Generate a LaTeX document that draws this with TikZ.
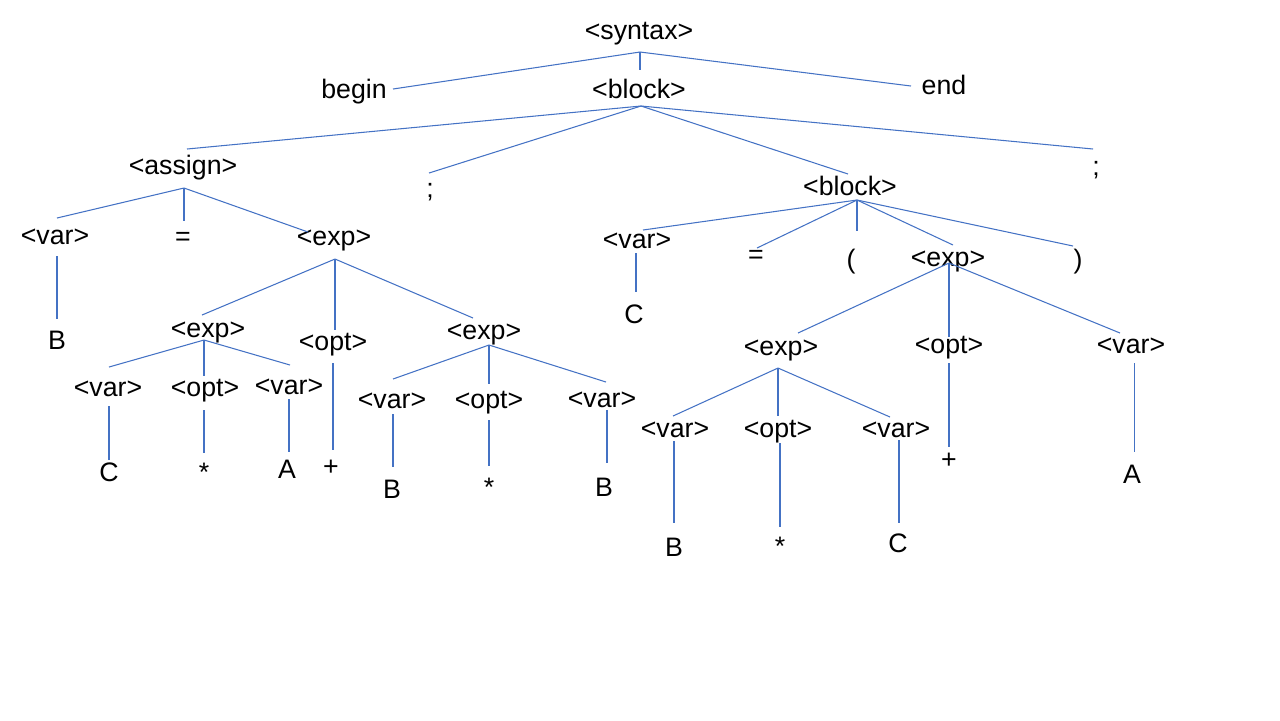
\documentclass[tikz,border=0pt]{standalone}
\usepackage{fontspec}
\setmainfont{Liberation Sans}
\usetikzlibrary{calc}

\definecolor{edgeblue}{RGB}{68,114,196}

\tikzset{
	tok/.style={inner sep=0pt, text height=0.72em, text depth=0.21em, font=\fontsize{7.6}{9}\selectfont},
	edge/.style={edgeblue, line width=0.3pt}
}

\begin{document}
\begin{tikzpicture}[x=0.01cm, y=-0.01cm]
		\useasboundingbox (0,0) rectangle (1280,720);

		% top level
		\node[tok] (syntax) at (639,31) {<syntax>};
		\node[tok] (begin) at (354,90) {begin};
		\node[tok] (block) at (639,90) {<block>};
		\node[tok] (end) at (944,86) {end};

		\node[tok] (assign) at (183,166) {<assign>};
		\node[tok] (semiA) at (430,189) {;};
		\node[tok] (block2) at (850,187) {<block>};
		\node[tok] (semiB) at (1096,167) {;};

		% left: assignment
		\node[tok] (var1) at (55,236) {<var>};
		\node[tok] (eq1) at (183,237) {=};
		\node[tok] (exp1) at (334,237) {<exp>};
		\node[tok] (B1) at (57,341) {B};

		\node[tok] (exp2) at (208,329) {<exp>};
		\node[tok] (opt2) at (333,342) {<opt>};
		\node[tok] (exp3) at (484,331) {<exp>};

		\node[tok] (var2) at (108,388) {<var>};
		\node[tok] (opt1) at (205,388) {<opt>};
		\node[tok] (var3) at (289,386) {<var>};
		\node[tok] (C1) at (109,473) {C};
		\node[tok] (star1) at (204,473) {*};
		\node[tok] (A1) at (287,470) {A};
		\node[tok] (plus1) at (331,467) {+};

		\node[tok] (var4) at (392,400) {<var>};
		\node[tok] (opt3) at (489,400) {<opt>};
		\node[tok] (var5) at (602,399) {<var>};
		\node[tok] (B2) at (392,490) {B};
		\node[tok] (star2) at (489,488) {*};
		\node[tok] (B3) at (604,488) {B};

		% right: block
		\node[tok] (var6) at (637,240) {<var>};
		\node[tok] (C2) at (634,315) {C};
		\node[tok] (eq2) at (756,255) {=};
		\node[tok] (lparen) at (851,260) {(};
		\node[tok] (exp4) at (948,258) {<exp>};
		\node[tok] (rparen) at (1078,260) {)};

		\node[tok] (exp5) at (781,347) {<exp>};
		\node[tok] (opt4) at (949,345) {<opt>};
		\node[tok] (var7) at (1131,345) {<var>};

		\node[tok] (var8) at (675,429) {<var>};
		\node[tok] (opt5) at (778,429) {<opt>};
		\node[tok] (var9) at (896,429) {<var>};
		\node[tok] (plus2) at (949,460) {+};
		\node[tok] (A2) at (1132,475) {A};
		\node[tok] (B4) at (674,548) {B};
		\node[tok] (star3) at (780,547) {*};
		\node[tok] (C3) at (898,544) {C};

		% edges
		\draw[edge] ($(syntax)+(1,21)$) -- ($(begin)+(39,-1)$);
		\draw[edge] ($(syntax)+(1,21)$) -- ($(block)+(1,-20)$);
		\draw[edge] ($(syntax)+(1,21)$) -- ($(end)+(-33,0)$);

		\draw[edge] ($(block)+(2,16)$) -- ($(assign)+(4,-17)$);
		\draw[edge] ($(block)+(2,16)$) -- ($(semiA)+(-1,-16)$);
		\draw[edge] ($(block)+(2,16)$) -- ($(block2)+(-2,-13)$);
		\draw[edge] ($(block)+(2,16)$) -- ($(semiB)+(-3,-18)$);

		\draw[edge] ($(assign)+(1,22)$) -- ($(var1)+(2,-18)$);
		\draw[edge] ($(assign)+(1,22)$) -- ($(eq1)+(1,-16)$);
		\draw[edge] ($(assign)+(1,22)$) -- ($(exp1)+(-26,-5)$);
		\draw[edge] ($(var1)+(2,20)$) -- ($(B1)+(0,-22)$);

		\draw[edge] ($(exp1)+(1,22)$) -- ($(exp2)+(-6,-14)$);
		\draw[edge] ($(exp1)+(1,22)$) -- ($(opt2)+(2,-12)$);
		\draw[edge] ($(exp1)+(1,22)$) -- ($(exp3)+(-11,-13)$);

		\draw[edge] ($(exp2)+(-4,11)$) -- ($(var2)+(1,-21)$);
		\draw[edge] ($(exp2)+(-4,11)$) -- ($(opt1)+(-1,-12)$);
		\draw[edge] ($(exp2)+(-4,11)$) -- ($(var3)+(1,-21)$);
		\draw[edge] ($(var2)+(1,18)$) -- ($(C1)+(0,-13)$);
		\draw[edge] ($(opt1)+(-1,22)$) -- ($(star1)+(0,-20)$);
		\draw[edge] ($(var3)+(0,13)$) -- ($(A1)+(2,-18)$);
		\draw[edge] ($(opt2)+(0,21)$) -- ($(plus1)+(2,-17)$);

		\draw[edge] ($(exp3)+(5,14)$) -- ($(var4)+(1,-21)$);
		\draw[edge] ($(exp3)+(5,14)$) -- ($(opt3)+(0,-16)$);
		\draw[edge] ($(exp3)+(5,14)$) -- ($(var5)+(4,-17)$);
		\draw[edge] ($(var4)+(1,14)$) -- ($(B2)+(1,-23)$);
		\draw[edge] ($(opt3)+(0,20)$) -- ($(star2)+(0,-22)$);
		\draw[edge] ($(var5)+(5,11)$) -- ($(B3)+(3,-25)$);

		\draw[edge] ($(block2)+(7,13)$) -- ($(var6)+(6,-10)$);
		\draw[edge] ($(block2)+(7,13)$) -- ($(eq2)+(1,-7)$);
		\draw[edge] ($(block2)+(7,13)$) -- ($(lparen)+(6,-29)$);
		\draw[edge] ($(block2)+(7,13)$) -- ($(exp4)+(5,-13)$);
		\draw[edge] ($(block2)+(7,13)$) -- ($(rparen)+(-5,-14)$);
		\draw[edge] ($(var6)+(-1,13)$) -- ($(C2)+(2,-23)$);

		\draw[edge] ($(exp4)+(1,5)$) -- ($(exp5)+(17,-14)$);
		\draw[edge] ($(exp4)+(1,5)$) -- ($(opt4)+(0,-8)$);
		\draw[edge] ($(exp4)+(1,5)$) -- ($(var7)+(-11,-12)$);

		\draw[edge] ($(exp5)+(-3,21)$) -- ($(var8)+(-2,-13)$);
		\draw[edge] ($(exp5)+(-3,21)$) -- ($(opt5)+(0,-13)$);
		\draw[edge] ($(exp5)+(-3,21)$) -- ($(var9)+(-6,-12)$);
		\draw[edge] ($(var8)+(-1,12)$) -- ($(B4)+(0,-25)$);
		\draw[edge] ($(opt5)+(2,14)$) -- ($(star3)+(0,-20)$);
		\draw[edge] ($(var9)+(3,11)$) -- ($(C3)+(1,-21)$);
		\draw[edge] ($(opt4)+(0,18)$) -- ($(plus2)+(0,-13)$);
		\draw[edge] ($(var7)+(3,18)$) -- ($(A2)+(2,-23)$);
	\end{tikzpicture}
\end{document}
